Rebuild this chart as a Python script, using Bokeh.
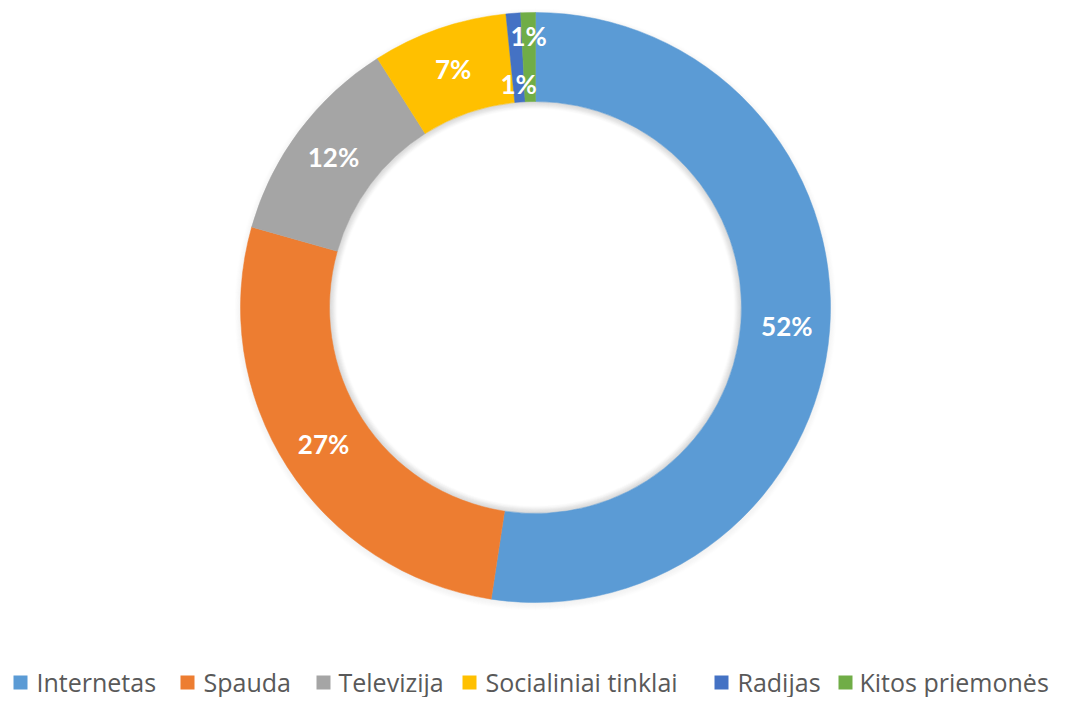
import math
from bokeh.plotting import figure
from bokeh.models import Range1d, ColumnDataSource
from bokeh.core.properties import value
from bokeh.embed import file_html
from bokeh.resources import INLINE

# ---- data ----
categories = ["Internetas", "Spauda", "Televizija", "Socialiniai tinklai", "Radijas", "Kitos priemonės"]
shares = [52.4, 27.0, 11.6, 7.4, 0.8, 0.8]
labels = ["52%", "27%", "12%", "7%", "1%", "1%"]
colors = ["#5B9BD5", "#ED7D31", "#A5A5A5", "#FFC000", "#4472C4", "#70AD47"]

# ---- layout ----
W, H = 1054, 697
CX, CY = 535, 390
R_OUT, R_IN = 295, 206
label_r = [252, 252, 252, 252, 224, 272]
legend_sq_x = [13, 180, 316, 462, 714, 838]
legend_tx_x = [36, 203, 338, 485, 737, 859]
LEG_Y = 16

p = figure(width=W, height=H, x_range=Range1d(0, W), y_range=Range1d(0, H),
           output_backend="svg", toolbar_location=None, min_border=0)
p.axis.visible = False
p.grid.visible = False
p.outline_line_color = None
p.background_fill_color = "white"

# soft shadow
for i in range(8):
    p.annular_wedge(x=CX, y=CY - 2, inner_radius=R_OUT - 2 + i, outer_radius=R_OUT - 1 + i,
                    start_angle=0, end_angle=2 * math.pi, fill_color="#000000",
                    fill_alpha=0.06 * (8 - i) / 8, line_color=None)
    p.annular_wedge(x=CX, y=CY, inner_radius=R_IN - i - 1, outer_radius=R_IN - i + 2,
                    start_angle=0, end_angle=2 * math.pi, fill_color="#000000",
                    fill_alpha=0.06 * (8 - i) / 8, line_color=None)

total = sum(shares)
starts, ends, lx, ly = [], [], [], []
cum = 0.0
for s, lr in zip(shares, label_r):
    a0 = math.pi / 2 - 2 * math.pi * cum / total
    cum += s
    a1 = math.pi / 2 - 2 * math.pi * cum / total
    starts.append(a0)
    ends.append(a1)
    mid = (a0 + a1) / 2
    lx.append(CX + lr * math.cos(mid))
    ly.append(CY + lr * math.sin(mid))

src = ColumnDataSource(dict(start=starts, end=ends, color=colors, lx=lx, ly=ly, lab=labels))
p.annular_wedge(x=CX, y=CY, inner_radius=R_IN, outer_radius=R_OUT,
                start_angle="start", end_angle="end", direction="clock",
                fill_color="color", line_color="color", line_width=0.5, source=src)

p.text(x="lx", y="ly", text="lab", source=src, text_color="white",
       text_font=value("Lato"), text_font_style="bold", text_font_size="26px",
       text_align="center", text_baseline="middle")

# legend
leg = ColumnDataSource(dict(sx=[x + 7 for x in legend_sq_x], sy=[LEG_Y - 1] * 6,
                            tx=legend_tx_x, ty=[LEG_Y] * 6, name=categories, color=colors))
p.rect(x="sx", y="sy", width=14, height=14, fill_color="color", line_color=None, source=leg)
p.text(x="tx", y="ty", text="name", source=leg, text_color="#595959",
       text_font=value("Open Sans"), text_font_size="25px",
       text_align="left", text_baseline="middle")

open("out.html", "w").write(file_html(p, INLINE))
